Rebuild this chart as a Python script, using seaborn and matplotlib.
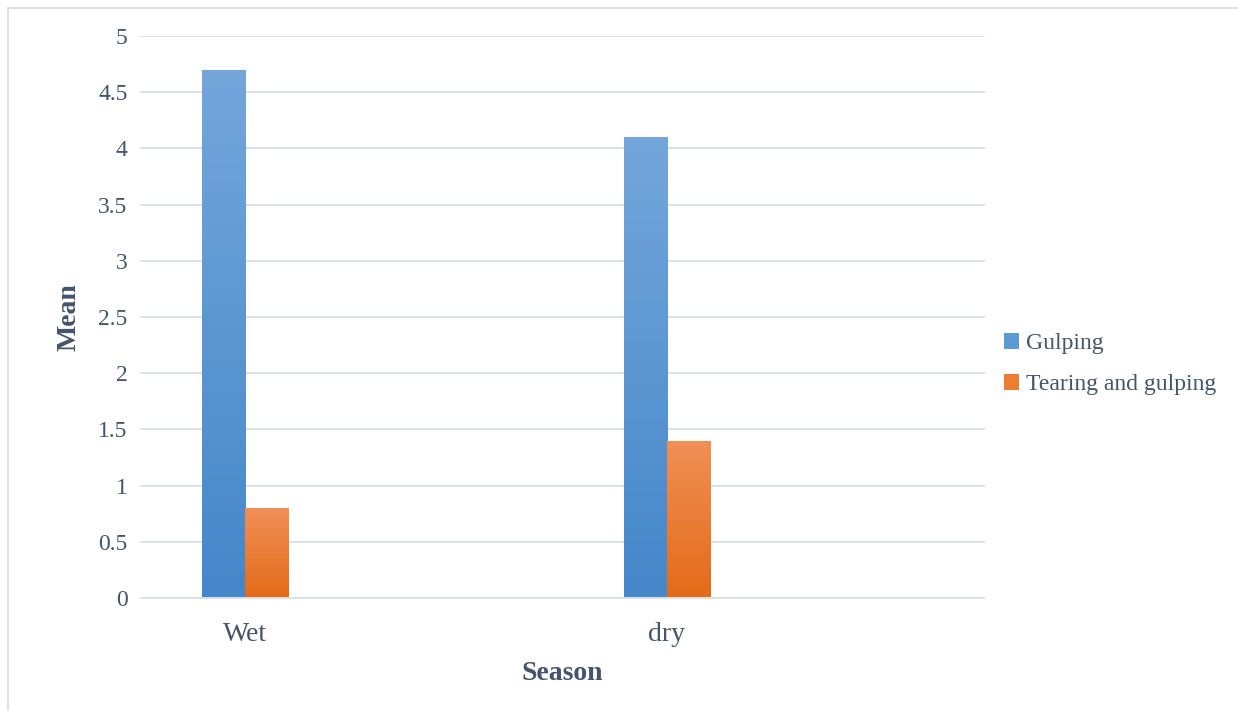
import numpy as np
import pandas as pd
import matplotlib
matplotlib.use("Agg")
import matplotlib.pyplot as plt
import seaborn as sns
from matplotlib.colors import LinearSegmentedColormap
from matplotlib.patches import Rectangle
from matplotlib.lines import Line2D

# Data
seasons = ["Wet", "dry"]
series = ["Gulping", "Tearing and gulping"]
gulping = [4.7, 4.1]
tearing = [0.8, 1.4]
ytick_values = [0, 0.5, 1, 1.5, 2, 2.5, 3, 3.5, 4, 4.5, 5]
ytick_labels = ["0", "0.5", "1", "1.5", "2", "2.5", "3", "3.5", "4", "4.5", "5"]

df = pd.DataFrame({
    "Season": seasons * 2,
    "Feeding": [series[0]] * len(seasons) + [series[1]] * len(seasons),
    "Mean": gulping + tearing,
})

# Styling
text_color = "#44546A"
grid_color = "#DDE1E6"
base_colors = ["#5B9BD5", "#ED7D31"]
# (bottom, top) colours for the vertical gradient of each series
gradients = [("#4487CA", "#74A6DB"), ("#E36B17", "#F18F57")]

sns.set_theme(style="white")
plt.rcParams["font.family"] = ["Liberation Serif", "DejaVu Serif"]

W, H = 1238, 711
fig = plt.figure(figsize=(W / 100, H / 100), dpi=100)
fig.patch.set_facecolor("white")
ax = fig.add_axes([140 / W, 1 - 598 / H, 845 / W, 562 / H])

sns.barplot(
    data=df, x="Season", y="Mean", hue="Feeding",
    order=seasons, hue_order=series, palette=base_colors,
    width=0.204, saturation=1, errorbar=None, legend=False, ax=ax,
)

xlim = (-0.249, 1.754)
ylim = (0, 5)

# Gradient fill clipped to each bar
grad = np.linspace(0, 1, 256).reshape(-1, 1)
for i, cont in enumerate(ax.containers):
    cmap = LinearSegmentedColormap.from_list(f"g{i}", list(gradients[i]))
    for bar in cont:
        x0, y0 = bar.get_x(), bar.get_y()
        w, h = bar.get_width(), bar.get_height()
        im = ax.imshow(grad, extent=[x0, x0 + w, y0, y0 + h], origin="lower",
                       cmap=cmap, aspect="auto", interpolation="bilinear",
                       zorder=bar.get_zorder() + 0.1)
        im.set_clip_path(bar)
        bar.set_edgecolor("none")

ax.set_xlim(*xlim)
ax.set_ylim(*ylim)

# Grid and axes
ax.set_yticks(ytick_values)
ax.set_yticklabels(ytick_labels)
ax.yaxis.grid(True, color=grid_color, linewidth=1.4)
ax.set_axisbelow(True)
for side in ["top", "right", "left"]:
    ax.spines[side].set_visible(False)
ax.spines["bottom"].set_color(grid_color)
ax.spines["bottom"].set_linewidth(1.4)
ax.spines["bottom"].set_capstyle("butt")

ax.tick_params(axis="y", length=0, pad=9, labelsize=17, labelcolor=text_color)
ax.tick_params(axis="x", length=0, pad=17.5, labelsize=20, labelcolor=text_color)

ax.set_ylabel("Mean", fontsize=20, fontweight="bold", color=text_color)
ax.set_xlabel("Season", fontsize=20, fontweight="bold", color=text_color)
ax.yaxis.set_label_coords(-0.0835, 0.5)
ax.xaxis.set_label_coords(0.5, -0.135)
ax.xaxis.label.set_va("center")
ax.yaxis.label.set_va("center")

# Legend
handles = [Rectangle((0, 0), 1, 1, facecolor=c, edgecolor="none") for c in base_colors]
fig.legend(handles, series, loc="center left",
           bbox_to_anchor=(1004 / W, 1 - 364 / H),
           frameon=False, fontsize=17, labelcolor=text_color,
           handlelength=0.65, handleheight=0.65, handletextpad=0.3,
           labelspacing=0.85, borderaxespad=0, borderpad=0)

# Outer chart-area border (top and left edges)
fig.add_artist(Line2D([8 / W, 8 / W], [0, 1 - 8 / H], transform=fig.transFigure,
                      color="#D9DDE3", linewidth=1.3))
fig.add_artist(Line2D([8 / W, 1], [1 - 8 / H, 1 - 8 / H], transform=fig.transFigure,
                      color="#D9DDE3", linewidth=1.3))

fig.savefig("out.png", dpi=100, facecolor="white")
